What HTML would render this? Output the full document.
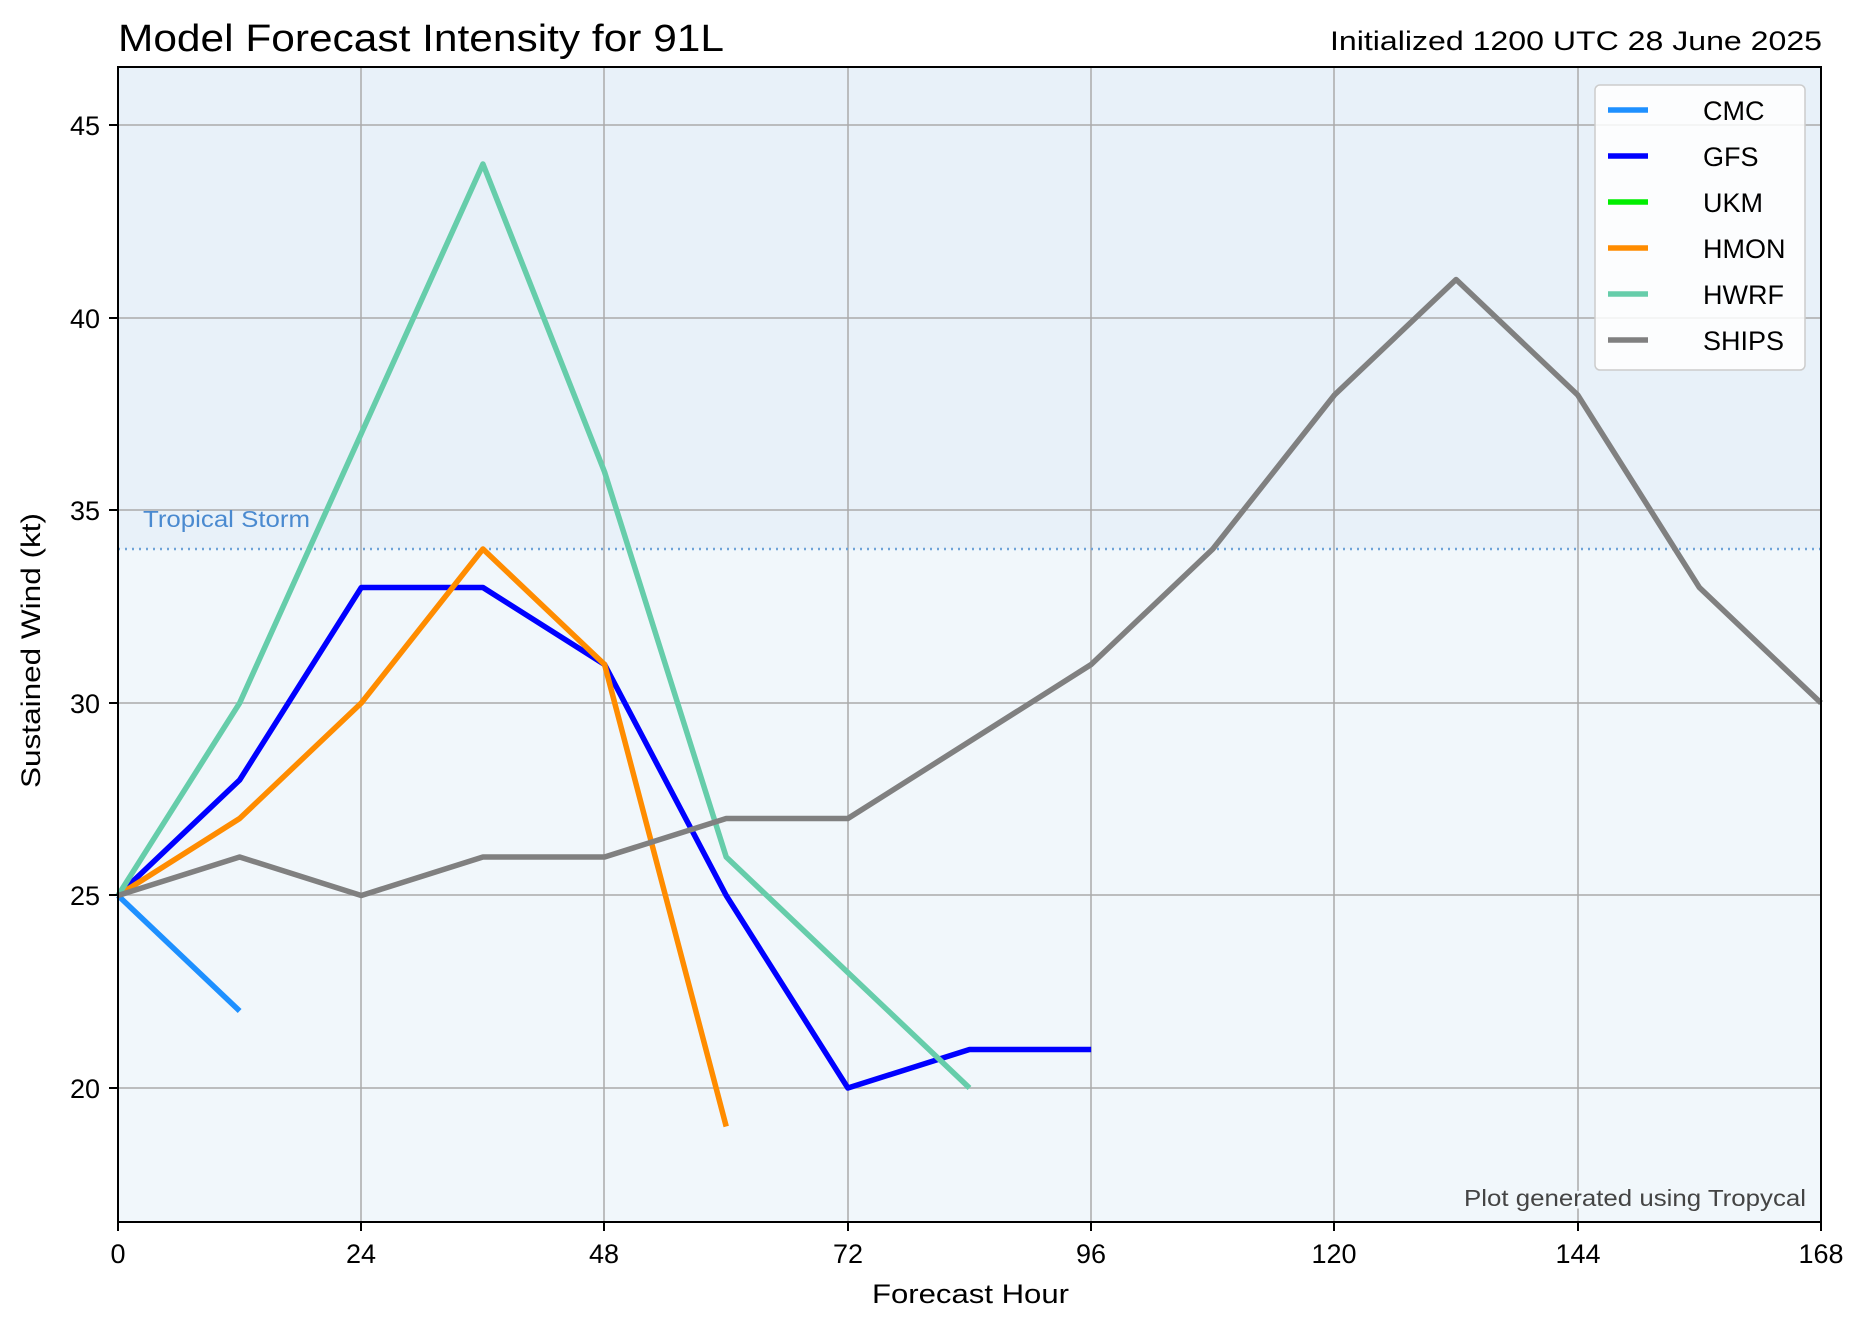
<!DOCTYPE html>
<html><head><meta charset="utf-8"><style>
body{margin:0;background:#fff;}
svg text{font-family:"Liberation Sans",sans-serif;}
</style></head><body>
<svg width="1871" height="1329" viewBox="0 0 1871 1329" xmlns="http://www.w3.org/2000/svg">
<rect x="0" y="0" width="1871" height="1329" fill="#fff"/>
<rect x="118" y="67" width="1703" height="482" fill="#e8f1f9"/>
<rect x="118" y="549" width="1703" height="673" fill="#f1f7fb"/>
<g stroke="#aaa" stroke-width="1.5">
<line x1="361" y1="67" x2="361" y2="1222"/><line x1="604" y1="67" x2="604" y2="1222"/>
<line x1="848" y1="67" x2="848" y2="1222"/><line x1="1091" y1="67" x2="1091" y2="1222"/>
<line x1="1334" y1="67" x2="1334" y2="1222"/><line x1="1578" y1="67" x2="1578" y2="1222"/>
<line x1="118" y1="125" x2="1821" y2="125"/><line x1="118" y1="318" x2="1821" y2="318"/>
<line x1="118" y1="510" x2="1821" y2="510"/><line x1="118" y1="703" x2="1821" y2="703"/>
<line x1="118" y1="895" x2="1821" y2="895"/><line x1="118" y1="1088" x2="1821" y2="1088"/>
</g>
<line x1="118" y1="549" x2="1821" y2="549" stroke="#6fa3d8" stroke-width="2.5" stroke-dasharray="2,5"/>
<text x="143" y="527" font-size="23" fill="#4a8ad0" textLength="167" lengthAdjust="spacingAndGlyphs">Tropical Storm</text>
<g transform="translate(118,1088) scale(10.137,-38.5)" fill="none" stroke-linejoin="round">
<polyline vector-effect="non-scaling-stroke" stroke="#1e90ff" stroke-width="5.5" points="0,5 12,2"/>
<polyline vector-effect="non-scaling-stroke" stroke="#0000ff" stroke-width="5.5" points="0,5 12,8 24,13 36,13 48,11 60,5 72,0 84,1 96,1"/>
<polyline vector-effect="non-scaling-stroke" stroke="#ff8c00" stroke-width="5.5" points="0,5 12,7 24,10 36,14 48,11 60,-1"/>
<polyline vector-effect="non-scaling-stroke" stroke="#66cdaa" stroke-width="5.5" points="0,5 12,10 24,17 36,24 48,16 60,6 72,3 84,0"/>
<polyline vector-effect="non-scaling-stroke" stroke="#808080" stroke-width="5.5" points="0,5 12,6 24,5 36,6 48,6 60,7 72,7 84,9 96,11 108,14 120,18 132,21 144,18 156,13 168,10"/>
</g>
<rect x="118" y="67" width="1703" height="1155" fill="none" stroke="#000" stroke-width="2"/>
<g stroke="#000" stroke-width="2">
<line x1="118" y1="1222" x2="118" y2="1231"/><line x1="361" y1="1222" x2="361" y2="1231"/>
<line x1="604" y1="1222" x2="604" y2="1231"/><line x1="848" y1="1222" x2="848" y2="1231"/>
<line x1="1091" y1="1222" x2="1091" y2="1231"/><line x1="1334" y1="1222" x2="1334" y2="1231"/>
<line x1="1578" y1="1222" x2="1578" y2="1231"/><line x1="1821" y1="1222" x2="1821" y2="1231"/>
<line x1="109" y1="125" x2="118" y2="125"/><line x1="109" y1="318" x2="118" y2="318"/>
<line x1="109" y1="510" x2="118" y2="510"/><line x1="109" y1="703" x2="118" y2="703"/>
<line x1="109" y1="895" x2="118" y2="895"/><line x1="109" y1="1088" x2="118" y2="1088"/>
</g>
<g font-size="27" fill="#000" text-anchor="middle">
<text x="118" y="1263">0</text><text x="361" y="1263">24</text><text x="604" y="1263">48</text>
<text x="848" y="1263">72</text><text x="1091" y="1263">96</text><text x="1334" y="1263">120</text>
<text x="1578" y="1263">144</text><text x="1821" y="1263">168</text>
</g>
<g font-size="27" fill="#000" text-anchor="end">
<text x="100" y="135">45</text><text x="100" y="328">40</text><text x="100" y="520">35</text>
<text x="100" y="713">30</text><text x="100" y="905">25</text><text x="100" y="1098">20</text>
</g>
<text x="872" y="1303" font-size="27" textLength="197" lengthAdjust="spacingAndGlyphs">Forecast Hour</text>
<text transform="translate(40,788) rotate(-90)" font-size="27" textLength="275" lengthAdjust="spacingAndGlyphs">Sustained Wind (kt)</text>
<text x="118" y="51" font-size="38" textLength="606" lengthAdjust="spacingAndGlyphs">Model Forecast Intensity for 91L</text>
<text x="1330" y="50" font-size="27" textLength="492" lengthAdjust="spacingAndGlyphs">Initialized 1200 UTC 28 June 2025</text>
<text x="1464" y="1206" font-size="23" fill="#444" textLength="342" lengthAdjust="spacingAndGlyphs" stroke="#f1f7fb" stroke-width="5" paint-order="stroke">Plot generated using Tropycal</text>
<rect x="1595" y="85" width="210" height="285" rx="5" fill="#fff" fill-opacity="0.85" stroke="#ccc" stroke-width="1.5"/>
<g stroke-width="5.5">
<line x1="1608" y1="110" x2="1648" y2="110" stroke="#1e90ff"/>
<line x1="1608" y1="156" x2="1648" y2="156" stroke="#0000ff"/>
<line x1="1608" y1="202" x2="1648" y2="202" stroke="#00ee00"/>
<line x1="1608" y1="248" x2="1648" y2="248" stroke="#ff8c00"/>
<line x1="1608" y1="294" x2="1648" y2="294" stroke="#66cdaa"/>
<line x1="1608" y1="340" x2="1648" y2="340" stroke="#808080"/>
</g>
<g font-size="27" fill="#000">
<text x="1703" y="120">CMC</text><text x="1703" y="166">GFS</text><text x="1703" y="212">UKM</text>
<text x="1703" y="258">HMON</text><text x="1703" y="304">HWRF</text><text x="1703" y="350">SHIPS</text>
</g>
</svg>
</body></html>
